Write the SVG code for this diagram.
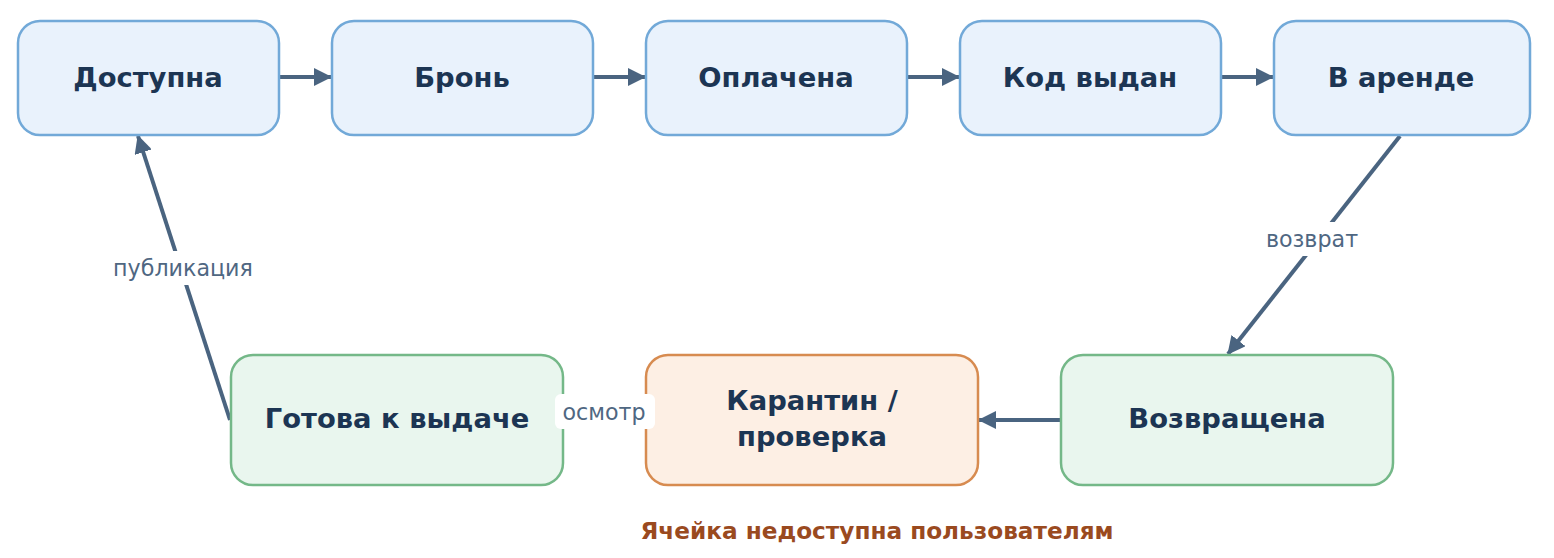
<svg xmlns="http://www.w3.org/2000/svg" width="1554" height="558" viewBox="0 0 1554 558">
<defs>
<marker id="arr" markerUnits="userSpaceOnUse" markerWidth="18" markerHeight="18" refX="17" refY="9" orient="auto">
<path d="M0,0 L18,9 L0,18 z" fill="#4a6480"/>
</marker>
<style>
.blue rect{fill:#e9f2fc;stroke:#72a9d8;stroke-width:2.5}
.green rect{fill:#e9f6ee;stroke:#74b888;stroke-width:2.5}
.orange rect{fill:#fdefe4;stroke:#d78b50;stroke-width:2.5}
.nt{font-family:"DejaVu Sans",sans-serif;font-weight:bold;font-size:27.4px;fill:#1c3553;text-anchor:middle;dominant-baseline:central}
.edge{stroke:#4a6480;stroke-width:4;fill:none;marker-end:url(#arr)}
.lb{fill:#ffffff}
.lt{font-family:"DejaVu Sans",sans-serif;font-size:22.2px;fill:#4f6782;text-anchor:middle;dominant-baseline:central}
.title{font-family:"DejaVu Sans",sans-serif;font-weight:bold;font-size:23.2px;fill:#9a4a1f;text-anchor:middle;dominant-baseline:central}
</style>
</defs>
<g id="edges">
<line class="edge" x1="280" y1="77" x2="331" y2="77"/>
<line class="edge" x1="594" y1="77" x2="645" y2="77"/>
<line class="edge" x1="908" y1="77" x2="959" y2="77"/>
<line class="edge" x1="1222" y1="77" x2="1273" y2="77"/>
<line class="edge" x1="1400" y1="136" x2="1228" y2="354"/>
<line class="edge" x1="1060" y1="420" x2="979" y2="420"/>
<line class="edge" x1="645" y1="420" x2="564" y2="420"/>
<line class="edge" x1="230" y1="420" x2="138" y2="136"/>
</g>
<g id="n1" class="blue"><rect x="18" y="21" width="261" height="114" rx="22"/><text class="nt" x="148" y="77">Доступна</text></g>
<g id="n2" class="blue"><rect x="332" y="21" width="261" height="114" rx="22"/><text class="nt" x="462" y="77">Бронь</text></g>
<g id="n3" class="blue"><rect x="646" y="21" width="261" height="114" rx="22"/><text class="nt" x="776" y="77">Оплачена</text></g>
<g id="n4" class="blue"><rect x="960" y="21" width="261" height="114" rx="22"/><text class="nt" x="1090" y="77">Код выдан</text></g>
<g id="n5" class="blue"><rect x="1274" y="21" width="256" height="114" rx="22"/><text class="nt" x="1401" y="77">В аренде</text></g>
<g id="n6" class="green"><rect x="231" y="355" width="332" height="130" rx="22"/><text class="nt" x="397" y="418">Готова к выдаче</text></g>
<g id="n7" class="orange"><rect x="646" y="355" width="332" height="130" rx="22"/><text class="nt" x="812" y="400">Карантин /</text><text class="nt" x="812" y="436">проверка</text></g>
<g id="n8" class="green"><rect x="1061" y="355" width="332" height="130" rx="22"/><text class="nt" x="1227" y="418">Возвращена</text></g>
<g id="edge-labels">
<rect class="lb" x="1260" y="222" width="105" height="34" rx="6"/>
<text class="lt" x="1312" y="239">возврат</text>
<rect class="lb" x="106" y="251" width="155" height="34" rx="6"/>
<text class="lt" x="183" y="268">публикация</text>
<rect class="lb" x="555" y="394" width="100" height="35" rx="6"/>
<text class="lt" x="604" y="412">осмотр</text>
</g>
<text class="title" x="877" y="530">Ячейка недоступна пользователям</text>
</svg>
